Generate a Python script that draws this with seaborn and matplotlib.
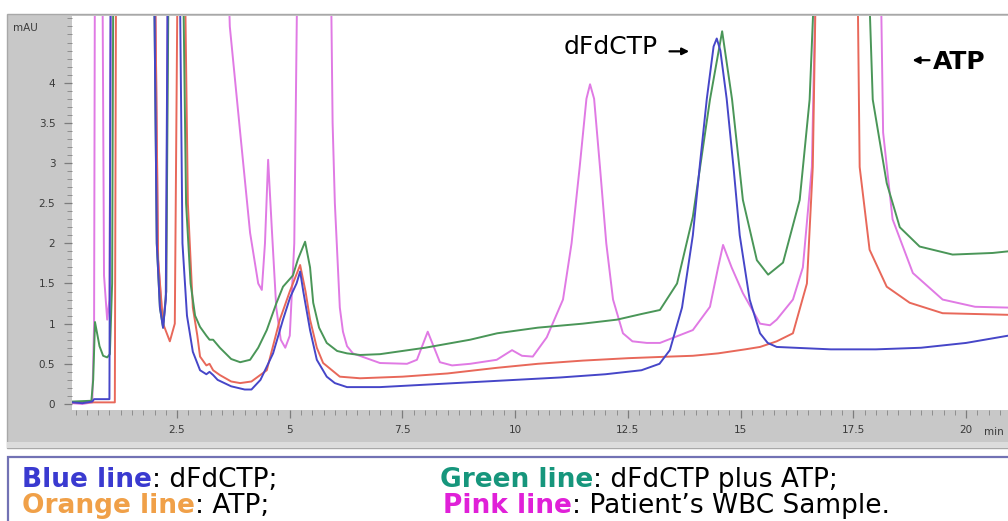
import numpy as np
import pandas as pd
import matplotlib
matplotlib.use("Agg")
import matplotlib.pyplot as plt
from matplotlib.patches import Rectangle
import seaborn as sns

# --- données lues sur le chromatogramme (temps en min, signal en mAU) ---
# 6 = hors échelle (pic coupé en haut du graphe)
blue_t = [0.17, 0.40, 0.62, 0.66, 1.00, 1.03, 1.98, 2.05, 2.12, 2.19, 2.25, 2.30, 2.55, 2.62, 2.72,
          2.85, 3.01, 3.15, 3.22, 3.30, 3.40, 3.70, 4.00, 4.15, 4.35, 4.63, 4.85, 5.01, 5.15, 5.23,
          5.30, 5.45, 5.60, 5.82, 6.00, 6.27, 7.00, 8.00, 9.00, 10.00, 11.00, 12.00, 12.80, 13.20,
          13.43, 13.70, 13.94, 14.10, 14.25, 14.40, 14.47, 14.55, 14.69, 14.85, 14.98, 15.20, 15.43,
          15.60, 15.80, 16.20, 17.00, 18.00, 19.00, 20.00, 20.93]
blue_y = [0.02, 0.01, 0.03, 0.06, 0.06, 6, 6, 2.0, 1.2, 0.95, 1.3, 6, 6, 2.0, 1.1,
          0.65, 0.42, 0.37, 0.40, 0.36, 0.30, 0.22, 0.18, 0.18, 0.30, 0.63, 1.05, 1.33, 1.50, 1.65,
          1.40, 0.92, 0.55, 0.34, 0.26, 0.21, 0.21, 0.24, 0.27, 0.30, 0.33, 0.37, 0.42, 0.50,
          0.67, 1.20, 2.10, 3.00, 3.80, 4.45, 4.55, 4.40, 3.80, 2.90, 2.10, 1.30, 0.88,
          0.76, 0.71, 0.70, 0.68, 0.68, 0.70, 0.76, 0.85]

green_t = [0.17, 0.60, 0.64, 0.68, 0.78, 0.86, 0.95, 1.01, 1.06, 1.09, 1.98, 2.05, 2.12, 2.19, 2.26,
           2.32, 2.62, 2.70, 2.80, 2.90, 3.01, 3.15, 3.22, 3.30, 3.45, 3.70, 3.90, 4.12, 4.30, 4.49,
           4.70, 4.85, 5.07, 5.18, 5.34, 5.45, 5.52, 5.65, 5.82, 6.05, 6.27, 6.56, 7.00, 8.00, 9.00,
           9.60, 10.50, 11.50, 12.26, 12.80, 13.21, 13.59, 13.94, 14.32, 14.59, 14.81, 15.05, 15.36,
           15.61, 15.94, 16.31, 16.53, 16.69, 17.80, 17.93, 18.24, 18.53, 18.97, 19.70, 20.59, 20.93]
green_y = [0.03, 0.04, 0.30, 1.02, 0.72, 0.60, 0.58, 0.62, 1.50, 6, 6, 2.0, 1.2, 0.95, 1.4,
           6, 6, 2.5, 1.5, 1.1, 0.96, 0.85, 0.80, 0.80, 0.70, 0.56, 0.52, 0.55, 0.70, 0.92,
           1.25, 1.46, 1.60, 1.80, 2.02, 1.70, 1.26, 0.95, 0.76, 0.66, 0.63, 0.61, 0.62, 0.70, 0.80,
           0.88, 0.95, 1.00, 1.05, 1.12, 1.17, 1.50, 2.33, 3.79, 4.64, 3.79, 2.54, 1.79,
           1.61, 1.76, 2.54, 3.79, 6, 6, 3.79, 2.75, 2.20, 1.96, 1.86, 1.88, 1.90]

red_t = [0.17, 1.12, 1.15, 2.00, 2.08, 2.19, 2.34, 2.45, 2.52, 2.66, 2.74, 2.85, 2.95, 3.01, 3.15,
         3.22, 3.30, 3.45, 3.70, 3.90, 4.15, 4.49, 4.78, 5.00, 5.23, 5.35, 5.45, 5.60, 5.74, 6.11,
         6.56, 7.50, 8.50, 9.59, 10.50, 11.50, 12.50, 13.43, 13.94, 14.50, 15.10, 15.43, 15.80,
         16.16, 16.47, 16.60, 16.69, 17.58, 17.64, 17.86, 18.24, 18.75, 19.48, 20.93]
red_y = [0.02, 0.02, 6, 6, 1.8, 1.0, 0.78, 1.0, 6, 6, 2.5, 1.2, 0.85, 0.59, 0.48,
         0.50, 0.42, 0.36, 0.28, 0.26, 0.28, 0.42, 1.05, 1.40, 1.73, 1.40, 1.05, 0.70, 0.51, 0.34,
         0.32, 0.34, 0.38, 0.45, 0.50, 0.54, 0.57, 0.59, 0.60, 0.63, 0.68, 0.71, 0.78,
         0.88, 1.50, 2.95, 6, 6, 2.95, 1.92, 1.46, 1.26, 1.13, 1.11]

pink_t = [0.17, 0.40, 0.62, 0.66, 0.68, 0.84, 0.88, 0.95, 1.00, 1.04, 2.00, 2.08, 2.19, 2.26, 2.30,
          3.60, 3.67, 3.90, 4.12, 4.30, 4.38, 4.45, 4.52, 4.60, 4.70, 4.80, 4.90, 5.00, 5.10, 5.18,
          5.90, 5.95, 6.00, 6.11, 6.18, 6.27, 6.40, 7.00, 7.60, 7.82, 8.06, 8.33, 8.60, 9.00, 9.59,
          9.93, 10.15, 10.39, 10.70, 11.06, 11.25, 11.43, 11.58, 11.66, 11.75, 11.88, 12.02, 12.17,
          12.39, 12.60, 12.92, 13.21, 13.94, 14.32, 14.50, 14.61, 14.80, 15.05, 15.43, 15.65, 15.80,
          16.16, 16.38, 16.58, 16.69, 18.09, 18.16, 18.37, 18.82, 19.48, 20.20, 20.93]
pink_y = [0.01, 0.00, 0.02, 1.0, 6, 6, 1.6, 1.05, 1.3, 6, 6, 1.8, 0.95, 1.4, 6,
          6, 4.7, 3.38, 2.13, 1.50, 1.42, 2.0, 3.04, 2.2, 1.2, 0.80, 0.70, 0.85, 2.0, 6,
          6, 3.5, 2.5, 1.2, 0.90, 0.72, 0.63, 0.51, 0.50, 0.55, 0.90, 0.52, 0.48, 0.50, 0.55,
          0.67, 0.60, 0.59, 0.83, 1.30, 2.00, 2.95, 3.80, 3.98, 3.80, 2.95, 2.00, 1.30,
          0.88, 0.78, 0.76, 0.76, 0.92, 1.21, 1.70, 1.98, 1.70, 1.38, 1.00, 0.98, 1.05,
          1.30, 1.70, 2.95, 6, 6, 3.38, 2.30, 1.63, 1.30, 1.21, 1.20]

series_names = ["Pink line", "Orange line", "Green line", "Blue line"]
series_colors = ["#e07ae4", "#e8685a", "#4a9658", "#4646c8"]

x_ticks = [2.5, 5, 7.5, 10, 12.5, 15, 17.5, 20]
x_labels = ["2.5", "5", "7.5", "10", "12.5", "15", "17.5", "20"]
y_ticks = [0, 0.5, 1, 1.5, 2, 2.5, 3, 3.5, 4]
y_labels = ["0", "0.5", "1", "1.5", "2", "2.5", "3", "3.5", "4"]

legend_rows = [
    [("Blue line", "#3a3ad0", "bold"), (": dFdCTP;", "black", "normal")],
    [("Orange line", "#f0a048", "bold"), (": ATP;", "black", "normal")],
]
legend_rows2 = [
    [("Green line", "#16967c", "bold"), (": dFdCTP plus ATP;", "black", "normal")],
    [("Pink line", "#e020d8", "bold"), (": Patient\u2019s WBC Sample.", "black", "normal")],
]

sns.set_style("white")
plt.rcParams["font.family"] = ["DejaVu Sans"]

W, H = 1008, 521
fig = plt.figure(figsize=(W / 100, H / 100), dpi=100)

# cadre gris façon logiciel HPLC
fig.patches.append(Rectangle((7 / W, 1 - 448 / H), 1, (448 - 14) / H, transform=fig.transFigure,
                             facecolor="#c8c8c8", edgecolor="#a8a8a8", lw=1, zorder=-2))
fig.patches.append(Rectangle((7 / W, 1 - 448 / H), 1, 6 / H, transform=fig.transFigure,
                             facecolor="#dcdcdc", edgecolor="none", zorder=-2))
# boîte de légende
fig.patches.append(Rectangle((8 / W, -0.05), 1, (521 - 457) / H + 0.05, transform=fig.transFigure,
                             facecolor="white", edgecolor="#7272b4", lw=1.6, zorder=-2))

ax = fig.add_axes([72 / W, 1 - 410 / H, (W - 72) / W, (410 - 16) / H])
ax.set_facecolor("white")

all_t = [pink_t, red_t, green_t, blue_t]
all_y = [pink_y, red_y, green_y, blue_y]
for name, col, t, y in zip(series_names, series_colors, all_t, all_y):
    df = pd.DataFrame({"t": t, "y": y})
    sns.lineplot(data=df, x="t", y="y", color=col, lw=1.4, ax=ax, sort=False, estimator=None)

ax.set_xlim(0.17, 20.93)
ax.set_ylim(-0.075, 4.83)
ax.set_xlabel("")
ax.set_ylabel("")
ax.set_xticks(x_ticks)
ax.set_xticklabels(x_labels)
ax.set_yticks(y_ticks)
ax.set_yticklabels(y_labels)
ax.set_xticks(np.arange(0.25, 21, 0.25), minor=True)
ax.set_yticks(np.arange(0, 4.85, 0.1), minor=True)
ax.tick_params(axis="both", which="both", bottom=True, left=True, top=False, right=False)
ax.tick_params(axis="both", which="major", direction="out", length=6, width=0.9,
               color="#7c7c7c", labelsize=7.5, labelcolor="#3a3a3a")
ax.tick_params(axis="both", which="minor", direction="out", length=3.5, width=0.7, color="#8e8e8e")
ax.tick_params(axis="y", which="major", pad=6)
ax.tick_params(axis="x", which="major", pad=5)
for s in ax.spines.values():
    s.set_visible(False)

fig.text(13 / W, 1 - 28 / H, "mAU", fontsize=7.5, color="#3a3a3a", va="center")
fig.text(984 / W, 1 - 432 / H, "min", fontsize=7.5, color="#3a3a3a", va="center")

# annotations des pics
ax.text(13.17, 4.44, "dFdCTP", fontsize=18, ha="right", va="center", color="black")
ax.annotate("", xy=(13.92, 4.39), xytext=(13.36, 4.39),
            arrowprops=dict(arrowstyle="-|>", color="black", lw=1.6, mutation_scale=10))
ax.text(19.26, 4.26, "ATP", fontsize=18, fontweight="bold", ha="left", va="center", color="black")
ax.annotate("", xy=(18.75, 4.28), xytext=(19.25, 4.28),
            arrowprops=dict(arrowstyle="-|>", color="black", lw=1.6, mutation_scale=10))

# légende en texte coloré
renderer = fig.canvas.get_renderer()


def write_row(x_px, y_px, parts):
    x = x_px / W
    for txt, col, wt in parts:
        t = fig.text(x, 1 - y_px / H, txt, fontsize=19, color=col, fontweight=wt, va="baseline")
        bb = t.get_window_extent(renderer)
        x = bb.x1 / W


write_row(22, 487, legend_rows[0])
write_row(22, 513, legend_rows[1])
write_row(440, 487, legend_rows2[0])
write_row(443, 513, legend_rows2[1])

fig.savefig("out.png", dpi=100)
